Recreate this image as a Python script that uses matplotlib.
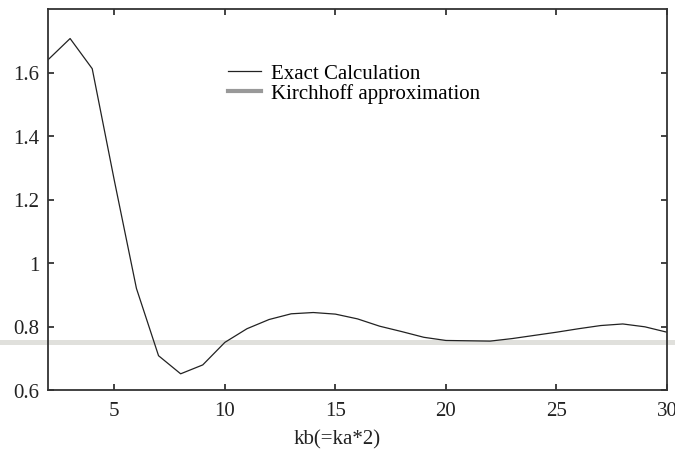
import matplotlib
matplotlib.use("Agg")
import matplotlib.pyplot as plt
import matplotlib.transforms as mtransforms
from matplotlib.lines import Line2D

# valeurs
kb = [2, 3, 4, 5, 6, 7, 8, 9, 10, 11, 12, 13, 14, 15, 16,
      17, 18, 19, 20, 21, 22, 23, 24, 25, 26, 27, 28, 29, 30]
exact = [1.640, 1.707, 1.612, 1.26, 0.92, 0.708, 0.651, 0.679, 0.75, 0.793,
         0.822, 0.840, 0.844, 0.839, 0.824, 0.801, 0.784, 0.766, 0.756, 0.755,
         0.754, 0.762, 0.772, 0.782, 0.793, 0.803, 0.808, 0.799, 0.782]
kirchhoff = 0.75

xticks = [5, 10, 15, 20, 25, 30]
yticks = [0.6, 0.8, 1.0, 1.2, 1.4, 1.6]
ytick_labels = ["0.6", "0.8", "1", "1.2", "1.4", "1.6"]

plt.rcParams["font.family"] = ["Liberation Serif", "DejaVu Serif"]

fig = plt.figure(figsize=(6.75, 4.52), dpi=100)
ax = fig.add_axes([48 / 675, 61 / 452, 619 / 675, 381 / 452])

# la bande grise déborde sur toute la largeur de la figure
trans = mtransforms.blended_transform_factory(fig.transFigure, ax.transData)
ax.plot([0, 1], [kirchhoff, kirchhoff], color="#e0e0dc", lw=3.6,
        transform=trans, clip_on=False, zorder=1)
ax.plot(kb, exact, color="#222222", lw=0.9, zorder=3)

ax.set_xlim(2, 30)
ax.set_ylim(0.6, 1.8)
ax.set_xticks(xticks)
ax.set_yticks(yticks)
ax.set_yticklabels(ytick_labels)
ax.tick_params(direction="in", length=4.5, width=1.2, top=True, right=True,
               labelsize=15, colors="#222222")
ax.tick_params(axis="x", pad=8)
ax.tick_params(axis="y", pad=6)
for s in ax.spines.values():
    s.set_linewidth(1.3)
    s.set_color("#333333")
    s.set_zorder(4)

handles = [Line2D([], [], color="#222222", lw=0.9),
           Line2D([], [], color="#999999", lw=3)]
ax.legend(handles, ["Exact Calculation", "Kirchhoff approximation"],
          loc="upper left", bbox_to_anchor=(0.267, 0.895), frameon=False,
          fontsize=15, handlelength=1.6, handletextpad=0.45,
          labelspacing=0.0, borderpad=0.2)

fig.text(337 / 675, 1 - 440 / 452, "kb(=ka*2)", ha="center", va="center",
         fontsize=15, color="#222222")

fig.savefig("out.png", dpi=100)
